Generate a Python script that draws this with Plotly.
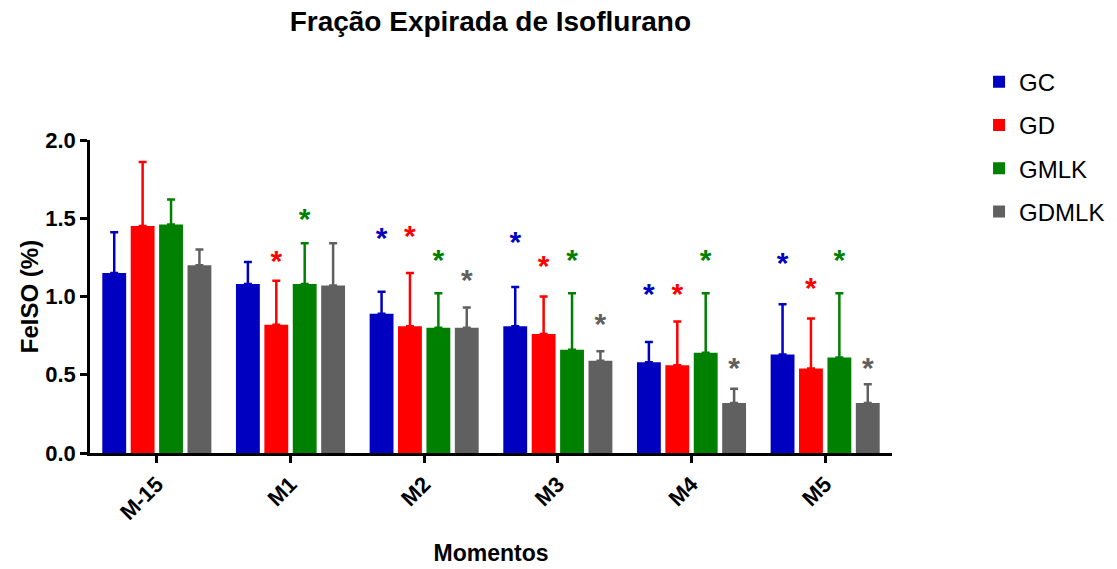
import plotly.graph_objects as go

categories = ["M-15", "M1", "M2", "M3", "M4", "M5"]
series_names = ["GC", "GD", "GMLK", "GDMLK"]
colors = ["#0000C0", "#FF0000", "#008000", "#606060"]

gc_mean = [1.15, 1.08, 0.89, 0.81, 0.58, 0.63]
gd_mean = [1.45, 0.82, 0.81, 0.76, 0.56, 0.54]
gmlk_mean = [1.46, 1.08, 0.80, 0.66, 0.64, 0.61]
gdmlk_mean = [1.20, 1.07, 0.80, 0.59, 0.32, 0.32]

gc_err = [0.26, 0.14, 0.14, 0.25, 0.13, 0.32]
gd_err = [0.41, 0.28, 0.34, 0.24, 0.28, 0.32]
gmlk_err = [0.16, 0.26, 0.22, 0.36, 0.38, 0.41]
gdmlk_err = [0.10, 0.27, 0.13, 0.06, 0.09, 0.12]

# significance marker heights (None = no marker)
gc_star = [None, None, 1.355, 1.33, 1.00, 1.20]
gd_star = [None, 1.21, 1.37, 1.18, 1.00, 1.04]
gmlk_star = [None, 1.48, 1.22, 1.22, 1.22, 1.22]
gdmlk_star = [None, None, 1.09, 0.81, 0.53, 0.53]

means = [gc_mean, gd_mean, gmlk_mean, gdmlk_mean]
errs = [gc_err, gd_err, gmlk_err, gdmlk_err]
stars = [gc_star, gd_star, gmlk_star, gdmlk_star]

FONT = "Liberation Sans, Arial, sans-serif"

fig = go.Figure()
for i, name in enumerate(series_names):
    fig.add_trace(go.Bar(
        x=categories, y=means[i], name=name,
        marker=dict(color=colors[i], line=dict(width=0)),
        offsetgroup=str(i), alignmentgroup="a", legendgroup=name,
        error_y=dict(type="data", symmetric=False, array=errs[i],
                     arrayminus=[0] * len(errs[i]), color=colors[i],
                     thickness=2.5, width=4),
    ))
for i, name in enumerate(series_names):
    fig.add_trace(go.Scatter(
        x=categories, y=stars[i], mode="text",
        text=["*" if v is not None else "" for v in stars[i]],
        textposition="middle center",
        textfont=dict(family=FONT, size=30, color=colors[i], weight="bold"),
        offsetgroup=str(i), alignmentgroup="a", showlegend=False,
        hoverinfo="skip",
    ))

fig.update_layout(
    width=1117, height=569,
    paper_bgcolor="white", plot_bgcolor="white",
    barmode="group", bargap=0.15, bargroupgap=0.16,
    scattermode="group", scattergap=0.15,
    margin=dict(l=90, r=225, t=140, b=116, autoexpand=False),
    font=dict(family=FONT, color="black"),
    title=dict(text="<b>Fração Expirada de Isoflurano</b>", x=0.439, xanchor="center",
               y=0.962, yanchor="middle", font=dict(size=28, family=FONT, color="black")),
    legend=dict(xref="container", yref="container", x=0.8765, y=0.895,
                xanchor="left", yanchor="top",
                font=dict(size=24, family=FONT, color="black"),
                tracegroupgap=9, itemwidth=30),
    showlegend=True,
)
fig.update_xaxes(
    type="category", range=[-0.5, 5.5], automargin=False,
    showline=True, linecolor="black", linewidth=2.5,
    ticks="outside", ticklen=7, tickwidth=2.5, tickcolor="black",
    tickangle=-45, tickfont=dict(size=22, family=FONT, color="black", weight="bold"),
    title=dict(text="<b>Momentos</b>", font=dict(size=23, family=FONT, color="black"), standoff=21),
    showgrid=False, zeroline=False,
)
fig.update_yaxes(
    range=[0, 2.0], tickvals=[0, 0.5, 1.0, 1.5, 2.0], automargin=False,
    ticktext=["0.0", "0.5", "1.0", "1.5", "2.0"],
    showline=True, linecolor="black", linewidth=2.5,
    ticks="outside", ticklen=7, tickwidth=2.5, tickcolor="black",
    tickfont=dict(size=22, family=FONT, color="black", weight="bold"),
    title=dict(text="<b>FeISO (%)</b>", font=dict(size=24, family=FONT, color="black"), standoff=0),
    showgrid=False, zeroline=False,
)

fig.write_html("out.html")
